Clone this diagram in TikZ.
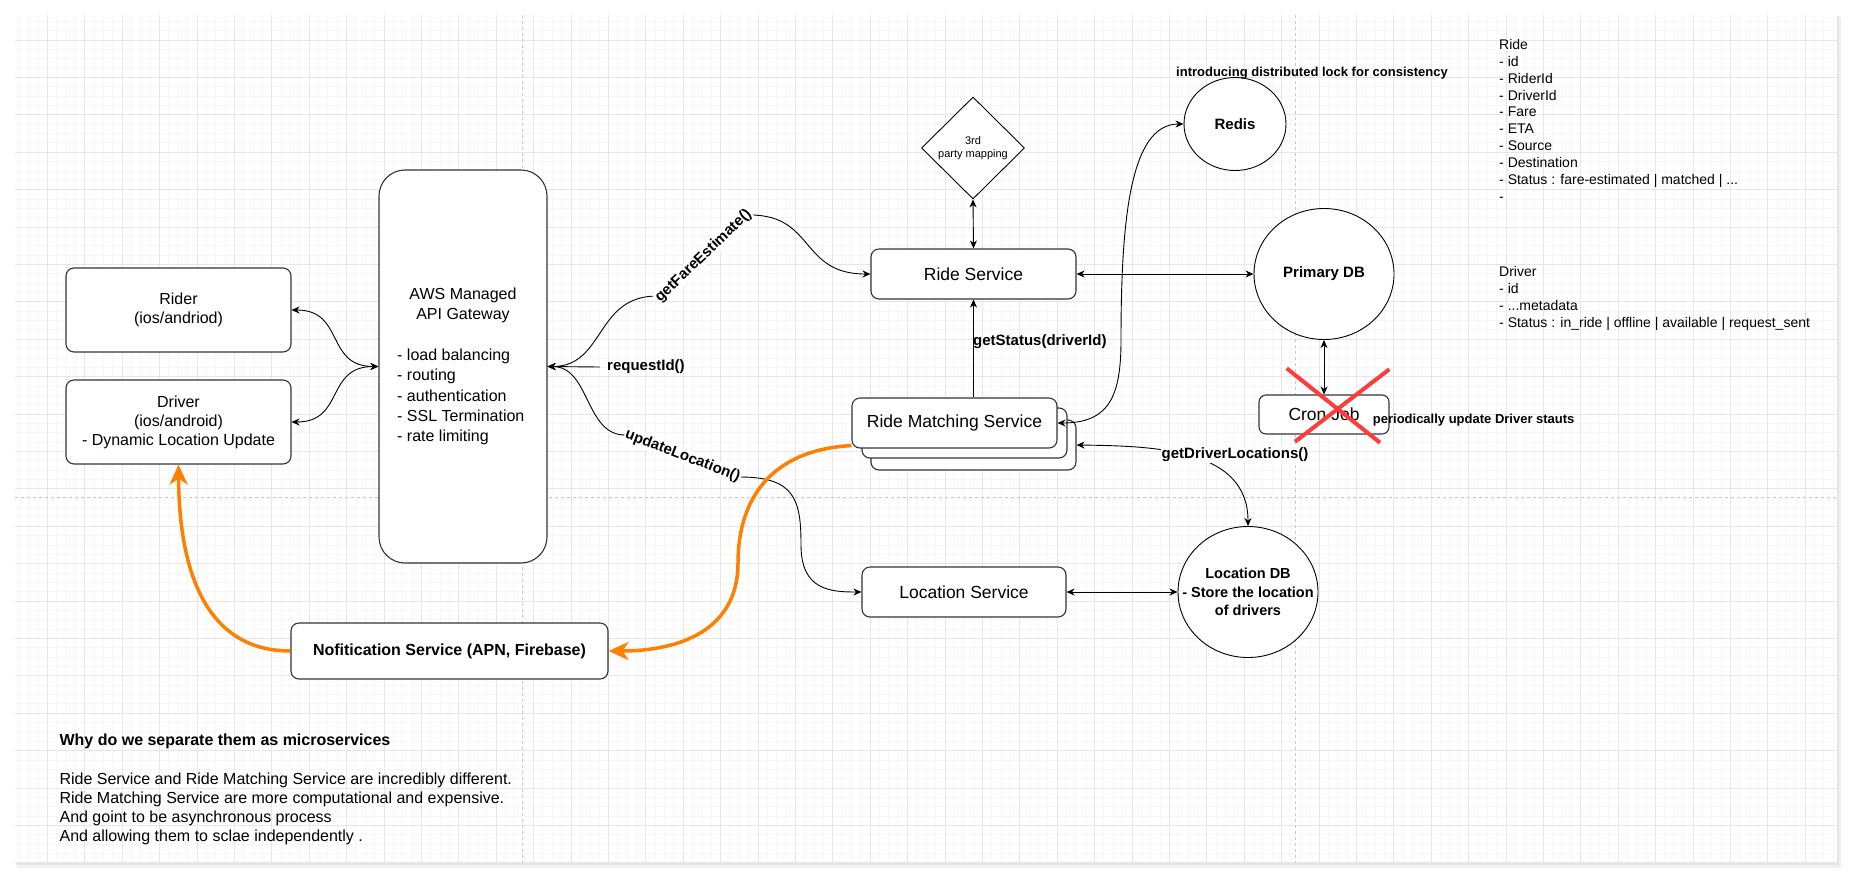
\documentclass[tikz,border=0pt]{standalone}
\usepackage{fontspec}
\setmainfont{Liberation Sans}
\usetikzlibrary{shapes.geometric, arrows.meta}
\definecolor{gridminor}{RGB}{247,247,247}
\definecolor{gridmajor}{RGB}{230,230,230}
\definecolor{pagebrk}{RGB}{200,200,200}
\definecolor{boxc}{RGB}{51,51,51}
\definecolor{orng}{RGB}{255,128,0}
\definecolor{xred}{RGB}{255,60,60}
\newcommand\myfs[2]{\fontsize{#1}{#2}\selectfont}
\begin{document}
\begin{tikzpicture}[x=1pt,y=-1pt,
  >={Stealth[length=8pt,width=7pt,inset=2.5pt]},
  box/.style={draw=boxc, line width=1.1pt, rounded corners=8pt, fill=white, inner sep=0pt, align=center},
  ell/.style={draw=black, line width=0.9pt, ellipse, fill=white, inner sep=0pt, align=center},
  t16/.style={font=\myfs{16}{19}},
  tsvc/.style={font=\myfs{17.5}{21}},
  lbl/.style={font=\bfseries\myfs{15}{18}},
  note/.style={font=\bfseries\myfs{13}{15}},
  arr/.style={line width=0.9pt, black},
  oarr/.style={draw=orng, line width=3.5pt, -{Stealth[length=20pt,width=18pt,inset=6pt]}},
  xline/.style={draw=xred, line width=4pt}]
\useasboundingbox (0,0) rectangle (1852,879);
\fill[white] (0,0) rectangle (1852,879);
% panel shadow and panel
\fill[black!6] (17,17) rectangle (1841,868);
\fill[black!10] (16,16) rectangle (1839,865);
\fill[white] (15,15) rectangle (1837,863);
% grid
\begin{scope}
\clip (15,15) rectangle (1837,863);
\foreach \i in {-3,...,191} \draw[gridminor, line width=0.8pt] ({47.3+9.35*\i},15) -- ++(0,848);
\foreach \j in {-2,...,88} \draw[gridminor, line width=0.8pt] (15,{40+9.35*\j}) -- ++(1822,0);
\foreach \i in {0,...,47} \draw[gridmajor, line width=0.8pt] ({47.3+37.4*\i},15) -- ++(0,848);
\foreach \j in {0,...,22} \draw[gridmajor, line width=0.8pt] (15,{40+37.4*\j}) -- ++(1822,0);
\end{scope}
% page breaks
\draw[pagebrk, line width=0.8pt, dash pattern=on 3pt off 3pt] (522,15) -- (522,863);
\draw[pagebrk, line width=0.8pt, dash pattern=on 3pt off 3pt] (1295,15) -- (1295,863);
\draw[pagebrk, line width=0.8pt, dash pattern=on 3pt off 3pt] (15,497) -- (1837,497);

% nodes
\node[box, t16, minimum width=225pt, minimum height=84pt] (rider) at (178.5,310) {Rider\\(ios/andriod)};
\node[box, t16, minimum width=225pt, minimum height=84pt] (driver) at (178.5,422) {Driver\\(ios/android)\\- Dynamic Location Update};
\node[box, rounded corners=26pt, minimum width=168pt, minimum height=393pt] (api) at (463,366.5) {};
\node[t16, align=center, inner sep=0pt, font=\myfs{16}{20}] (apit) at (463,305) {AWS Managed\\API Gateway};
\node[t16, align=left, anchor=west, inner sep=0pt, font=\myfs{16}{20.25}] (apil) at (397,397) {- load balancing\\- routing\\- authentication\\- SSL Termination\\- rate limiting};

\node[draw=black, line width=0.9pt, diamond, fill=white, inner sep=0pt, minimum width=103pt, minimum height=102pt, align=center, font=\myfs{11}{13}] (tp) at (973,148) {3rd\\party mapping};
\node[box, tsvc, minimum width=205pt, minimum height=50pt] (rs) at (973.5,274) {Ride Service};

\node[box, minimum width=205pt, minimum height=50pt] (rm3) at (973.5,445) {};
\node[box, minimum width=205pt, minimum height=50pt] (rm2) at (964.5,433) {};
\node[box, tsvc, minimum width=205pt, minimum height=50pt] (rm) at (954.5,423) {Ride Matching Service};

\node[box, tsvc, minimum width=204pt, minimum height=50pt] (ls) at (964,592) {Location Service};
\node[box, font=\bfseries\myfs{16}{19}, minimum width=317pt, minimum height=56pt] (ns) at (449.5,651) {Nofitication Service (APN, Firebase)};
\node[box, tsvc, rounded corners=7pt, minimum width=130pt, minimum height=39pt] (cron) at (1324,414.5) {Cron Job};

\node[ell, lbl, minimum width=140pt, minimum height=131pt] (pdb) at (1324,274) {Primary DB};
\node[ell, lbl, minimum width=102pt, minimum height=93pt] (redis) at (1235,124) {Redis};
\node[ell, minimum width=140pt, minimum height=131pt] (ldb) at (1248,592) {};
\node[align=center, inner sep=0pt, font=\bfseries\myfs{14.5}{18.3}] (ldbt) at (ldb.center) {Location DB\\- Store the location\\of drivers};

% connectors
\draw[arr, <->] (rider.east) .. controls (345,310) and (325,366.5) .. (api.west);
\draw[arr, <->] (driver.east) .. controls (345,422) and (325,366.5) .. (api.west);

\node[lbl, anchor=west, inner xsep=7pt, inner ysep=0pt] (rid) at (600,367) {requestId()};
\draw[arr, ->] (rid.west) -- (api.east);

\draw[arr, <->] (api.east) .. controls (605,366.5) and (595,296) .. (657,296) -- (750,215) .. controls (815,215) and (800,274) .. (rs.west);
\node[lbl, fill=white, inner sep=1pt, rotate=43.7] (gfe) at (703.5,256) {getFareEstimate()};

\draw[arr, <->] (api.east) .. controls (590,366.5) and (585,435) .. (625,435) -- (740,477) .. controls (795,477) and (801,500) .. (801,545) .. controls (801,590) and (830,592) .. (ls.west);
\node[lbl, fill=white, inner sep=1pt, rotate=-20.9] (ul) at (682.5,456) {updateLocation()};

\draw[arr, <->] (tp.south) -- (rs.north);
\draw[arr, ->] (rs.south |- rm.north) -- (rs.south);
\node[lbl, anchor=west, inner sep=0pt] (gs) at (973,342) {getStatus(driverId)};
\draw[arr, <->] (rs.east) -- (pdb.west);
\draw[arr, <->] (rm.east) .. controls (1110,423) and (1121,395) .. (1121,340) .. controls (1121,220) and (1130,124) .. (redis.west);
\draw[arr, <->] (pdb.south) -- (cron.north);
\draw[arr, <->] (rm3.east) .. controls (1160,446) and (1248,450) .. (ldb.north);
\node[lbl, fill=white, inner sep=1pt] (gdl) at (1235,455) {getDriverLocations()};
\draw[arr, <->] (ls.east) -- (ldb.west);

% orange notification edges
\draw[oarr] ([yshift=3pt]rm.south west) .. controls (770,450) and (738,500) .. (738,563) .. controls (738,630) and (680,651) .. (ns.east);
\draw[oarr] (ns.west) .. controls (200,651) and (179,560) .. (driver.south);

% cron job crossed out
\draw[xline] (1286.7,368.3) -- (1380,442.7);
\draw[xline] (1389.3,369.3) -- (1295,441.7);

% notes
\node[note, inner sep=0pt] (lock) at (1312,73) {introducing distributed lock for consistency};
\node[note, anchor=west, inner sep=0pt] (cronnote) at (1372.7,420) {periodically update Driver stauts};

\node[align=left, anchor=north west, inner sep=0pt, font=\myfs{14}{16.9}] (ridemodel) at (1499,39) {Ride\\- id\\- RiderId\\- DriverId\\- Fare\\- ETA\\- Source\\- Destination\\- Status : fare-estimated | matched | ...\\-};
\node[align=left, anchor=north west, inner sep=0pt, font=\myfs{14}{17}] (drivermodel) at (1499,266) {Driver\\- id\\- ...metadata\\- Status : in\_ride | offline | available | request\_sent};

\node[align=left, anchor=north west, inner sep=0pt, font=\myfs{16}{19.2}] (why) at (59.4,734) {\textbf{Why do we separate them as microservices}\\[19.2pt]Ride Service and Ride Matching Service are incredibly different.\\Ride Matching Service are more computational and expensive.\\And goint to be asynchronous process\\And allowing them to sclae independently .};
\end{tikzpicture}
\end{document}
